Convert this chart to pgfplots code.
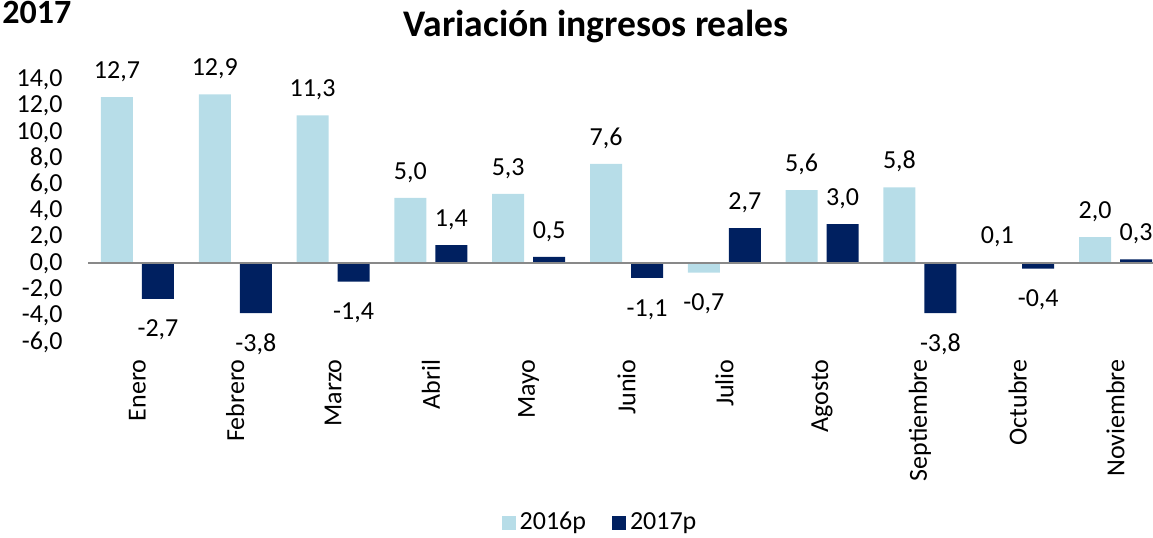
\documentclass[border=0pt]{standalone}
\usepackage{fontspec}
\setmainfont{Carlito}
\usepackage{pgfplots}
\pgfplotsset{compat=1.18}
\usepackage{pgfplotstable}

\definecolor{celeste}{RGB}{183,221,232}
\definecolor{marino}{RGB}{0,32,96}
\definecolor{eje}{RGB}{137,137,137}

% x = mes (0 = Enero), v = variacion
\pgfplotstableread{
x v
0 12.7
1 12.9
2 11.3
3 5.0
4 5.3
5 7.6
6 -0.7
7 5.6
8 5.8
9 0.1
10 2.0
}\datosA

\pgfplotstableread{
x v
0 -2.7
1 -3.8
2 -1.4
3 1.4
4 0.5
5 -1.1
6 2.7
7 3.0
8 -3.8
9 -0.4
10 0.3
}\datosB

% etiqueta arriba si es positivo, abajo si es negativo
\newcommand\signoetiqueta{%
  \pgfmathfloatparsenumber{\pgfplotspointmeta}%
  \pgfmathfloatgetflagstomacro{\pgfmathresult}{\signo}%
  \ifnum\signo=2 \def\dy{-19.1pt}\else\def\dy{9.4pt}\fi}

\begin{document}
\fontsize{13pt}{15pt}\selectfont
\begin{tikzpicture}
\useasboundingbox (0,0) rectangle (576.5pt,268.5pt);
\begin{axis}[
    at={(44pt,97.5pt)}, anchor=south west,
    scale only axis, width=532.5pt, height=131pt,
    xmin=-0.506, xmax=10.383, ymin=-6, ymax=14,
    ytick={-6,-4,...,14},
    xtick={0,...,10},
    xticklabels={Enero,Febrero,Marzo,Abril,Mayo,Junio,Julio,Agosto,Septiembre,Octubre,Noviembre},
    axis line style={draw=none},
    major tick length=0pt,
    xticklabel style={rotate=90, anchor=east, inner sep=0pt},
    xticklabel shift=8.5pt,
    yticklabel style={anchor=east, inner sep=0pt},
    yticklabel shift=12.5pt,
    /pgf/number format/.cd, use comma, fixed, fixed zerofill, precision=1, assume math mode=true,
    /pgfplots/.cd,
    clip=false,
    ybar, bar width=16pt,
    nodes near coords,
    every node near coord/.append style={anchor=base, inner sep=0pt,
        /utils/exec=\signoetiqueta, yshift=\dy},
    legend columns=2,
    legend style={draw=none, fill=none, at={(axis description cs:0.4817,-0.6908)}, anchor=center,
        /tikz/every even column/.append style={column sep=11pt}},
    legend image code/.code={\draw[#1,draw=none] (0pt,-3.5pt) rectangle (7pt,3.5pt);},
]
\addplot[fill=celeste, draw=none, bar shift=-10.25pt] table[x=x, y=v] {\datosA};
\addlegendentry{2016p}
\addplot[fill=marino, draw=none, bar shift=10.25pt] table[x=x, y=v] {\datosB};
\addlegendentry{2017p}
\draw[eje, line width=1pt] (axis cs:-0.506,0) -- (axis cs:10.383,0);
\end{axis}
\node[font=\fontsize{18.8pt}{21pt}\selectfont\bfseries, anchor=base] at (298pt,250pt) {Variación ingresos reales};
\node[font=\fontsize{17pt}{20pt}\selectfont\bfseries, anchor=base west, inner sep=0pt] at (1pt,256.5pt) {2017};
\end{tikzpicture}
\end{document}
